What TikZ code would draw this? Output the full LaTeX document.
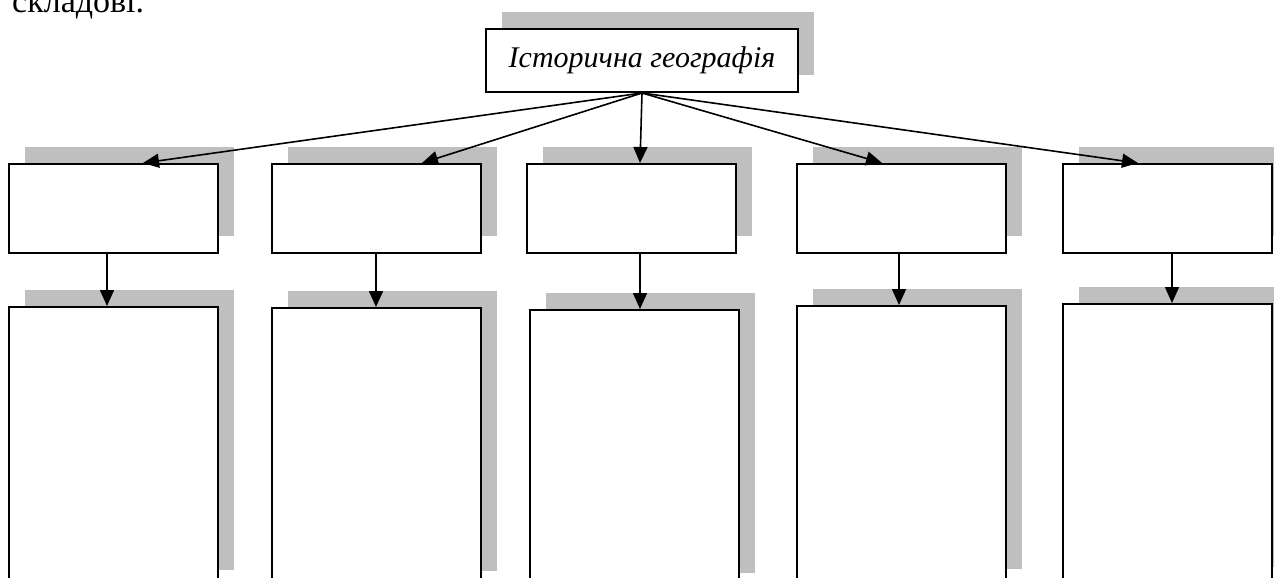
\documentclass[tikz,border=0pt]{standalone}
\usepackage{fontspec}
\setmainfont{Liberation Serif}
\usetikzlibrary{arrows.meta,shadows,calc}
\definecolor{shadowgray}{RGB}{191,191,191}
\tikzset{
  box/.style={draw=black, line width=2pt, fill=white, inner sep=0pt,
    copy shadow={shadow xshift=15.5pt, shadow yshift=17pt, fill=shadowgray, draw=none}},
  topbox/.style={box, minimum width=312pt, minimum height=63pt},
  midbox/.style={box, minimum width=209pt, minimum height=89pt, anchor=north west},
  lowbox/.style={box, minimum width=209pt, minimum height=280pt, anchor=north west},
  arr/.style={line width=1.6pt, -{Triangle[length=16pt,width=14pt]}},
  label/.style={font=\fontsize{30}{36}\selectfont\itshape}
}
\begin{document}
\begin{tikzpicture}[x=1pt,y=-1pt]
\clip (0,0) rectangle (1274,578);
\fill[white] (0,0) rectangle (1274,578);
\node[anchor=base west, inner sep=0pt, font=\fontsize{34}{40}\selectfont] (intro) at (12,13) {складові.};
\node[topbox, anchor=north west, label] (top) at (485,28) {Історична географія};
% middle row
\node[midbox] (a1) at (8,163) {};
\node[midbox] (a2) at (271,163) {};
\node[midbox] (a3) at (526,163) {};
\node[midbox] (a4) at (796,163) {};
\node[midbox] (a5) at (1062,163) {};
% lower row
\node[lowbox] (b1) at (8,306) {};
\node[lowbox] (b2) at (271,307) {};
\node[lowbox] (b3) at (529,309) {};
\node[lowbox] (b4) at (796,305) {};
\node[lowbox] (b5) at (1062,303) {};
% arrows from top
\coordinate (t1) at ($(a1.north west)+(135,0)$);
\coordinate (t2) at ($(a2.north west)+(151,0)$);
\coordinate (t3) at ($(a3.north west)+(114,0)$);
\coordinate (t4) at ($(a4.north west)+(86,0)$);
\coordinate (t5) at ($(a5.north west)+(76,0)$);
\foreach \i in {1,...,5} { \draw[arr] (top.south) -- (t\i); }
% vertical arrows
\coordinate (s1) at ($(a1.south west)+(99,0)$);
\coordinate (s2) at ($(a2.south west)+(105,0)$);
\coordinate (s3) at ($(a3.south west)+(114,0)$);
\coordinate (s4) at ($(a4.south west)+(103,0)$);
\coordinate (s5) at ($(a5.south west)+(110,0)$);
\draw[arr] (s1) -- (s1 |- b1.north);
\draw[arr] (s2) -- (s2 |- b2.north);
\draw[arr] (s3) -- (s3 |- b3.north);
\draw[arr] (s4) -- (s4 |- b4.north);
\draw[arr] (s5) -- (s5 |- b5.north);
\end{tikzpicture}
\end{document}
